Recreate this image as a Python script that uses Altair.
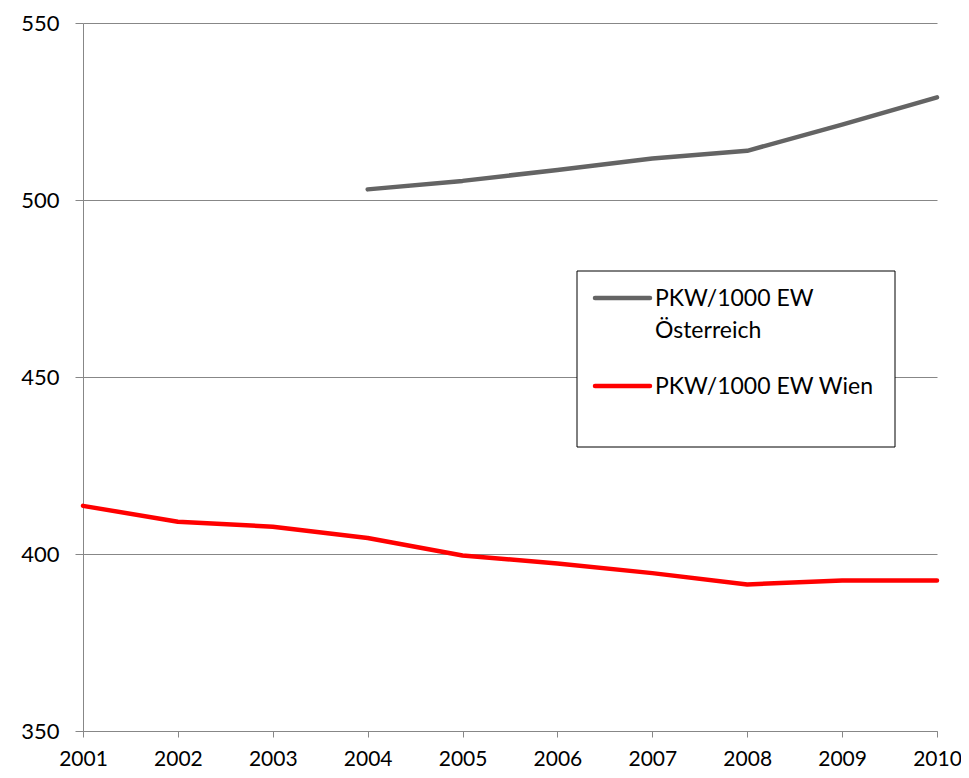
import altair as alt
import pandas as pd

years = [2001, 2002, 2003, 2004, 2005, 2006, 2007, 2008, 2009, 2010]
oesterreich = [None, None, None, 503.0, 505.4, 508.5, 511.7, 513.9, 521.3, 529.0]
wien = [413.6, 409.1, 407.7, 404.5, 399.6, 397.3, 394.6, 391.4, 392.5, 392.5]
series_names = ["PKW/1000 EW Österreich", "PKW/1000 EW Wien"]
series_colors = ["#646464", "#FF0000"]
y_ticks = [350, 400, 450, 500, 550]

rows = []
for name, vals in zip(series_names, [oesterreich, wien]):
    for yr, v in zip(years, vals):
        if v is not None:
            rows.append({"Jahr": yr, "Wert": v, "Serie": name})
df = pd.DataFrame(rows)

W, H = 854, 708
FONT = "Lato"
AXIS_COLOR = "#878787"

lines = alt.Chart(df).mark_line(strokeWidth=4.5, strokeCap="round", strokeJoin="round").encode(
    x=alt.X("Jahr:Q", scale=alt.Scale(domain=[2001, 2010], nice=False, zero=False),
            axis=alt.Axis(values=years, format="d", title=None, grid=False,
                          domainColor=AXIS_COLOR, tickColor=AXIS_COLOR, tickSize=6,
                          labelFontSize=21, labelFont=FONT, labelColor="black",
                          labelPadding=11, labelFlush=False, labelOverlap=False)),
    y=alt.Y("Wert:Q", scale=alt.Scale(domain=[350, 550], nice=False, zero=False),
            axis=alt.Axis(values=y_ticks, title=None, grid=True, gridColor=AXIS_COLOR,
                          domainColor=AXIS_COLOR, tickColor=AXIS_COLOR, tickSize=8,
                          labelFontSize=22, labelFont=FONT, labelColor="black",
                          labelPadding=16)),
    color=alt.Color("Serie:N", scale=alt.Scale(domain=series_names, range=series_colors), legend=None),
    detail="Serie:N",
)

# legend box drawn as decoration
one = pd.DataFrame({"a": [0]})
box = alt.Chart(one).mark_rect(fill="white", stroke="black", strokeWidth=1).encode(
    x=alt.value(494), x2=alt.value(812), y=alt.value(248), y2=alt.value(424))
sym1 = alt.Chart(one).mark_rule(color=series_colors[0], strokeWidth=4.5, strokeCap="round").encode(
    x=alt.value(512), x2=alt.value(567), y=alt.value(275))
sym2 = alt.Chart(one).mark_rule(color=series_colors[1], strokeWidth=4.5, strokeCap="round").encode(
    x=alt.value(512), x2=alt.value(567), y=alt.value(363))
txt_style = dict(align="left", baseline="middle", fontSize=23, font=FONT, color="black")
t1 = alt.Chart(one).mark_text(**txt_style).encode(x=alt.value(572), y=alt.value(276), text=alt.value("PKW/1000 EW"))
t2 = alt.Chart(one).mark_text(**txt_style).encode(x=alt.value(572), y=alt.value(308), text=alt.value("Österreich"))
t3 = alt.Chart(one).mark_text(**txt_style).encode(x=alt.value(572), y=alt.value(364), text=alt.value("PKW/1000 EW Wien"))

chart = alt.layer(lines, box, sym1, sym2, t1, t2, t3).properties(
    width=W, height=H,
    autosize=alt.AutoSizeParams(type="none"),
    padding={"left": 75, "top": 15, "right": 24, "bottom": 39},
    background="white",
).configure_view(strokeWidth=0)

chart.save("out.html", embed_options={"renderer": "svg", "actions": False})
